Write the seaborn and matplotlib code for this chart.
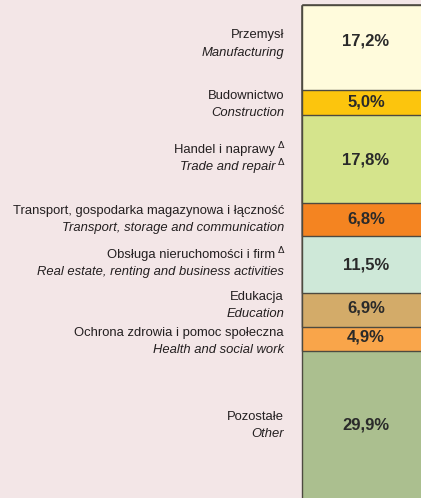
import matplotlib
matplotlib.use("Agg")
import matplotlib.pyplot as plt
from matplotlib import font_manager
import pandas as pd
import seaborn as sns

# udział sektorów (w %)
sectors_pl = ["Przemysł", "Budownictwo", "Handel i naprawy",
              "Transport, gospodarka magazynowa i łączność",
              "Obsługa nieruchomości i firm", "Edukacja",
              "Ochrona zdrowia i pomoc społeczna", "Pozostałe"]
sectors_en = ["Manufacturing", "Construction", "Trade and repair",
              "Transport, storage and communication",
              "Real estate, renting and business activities", "Education",
              "Health and social work", "Other"]
delta_pl = [False, False, True, False, True, False, False, False]
delta_en = [False, False, True, False, False, False, False, False]
shares = [17.2, 5.0, 17.8, 6.8, 11.5, 6.9, 4.9, 29.9]
colors = ["#fffbdc", "#fcc50d", "#d5e48c", "#f48421",
          "#cee8d8", "#d3ab69", "#f9a54a", "#abbf8f"]

# small vertical nudges (px, + = down) for labels and values
label_nudge = [-3.5, 2, 0, 0, -1, -4.5, 2.5, 0]
value_nudge = [-6.5, 0, 1, 0, 0, -2, -2.5, 0]

df = pd.DataFrame({"pl": sectors_pl, "en": sectors_en, "share": shares,
                   "color": colors, "dpl": delta_pl, "den": delta_en})
df["end"] = df["share"].cumsum()
df["start"] = df["end"] - df["share"]
df["mid"] = df["start"] + df["share"] / 2

sns.set_style("white")

# narrow font if there is one
try:
    font_manager.findfont("Liberation Sans Narrow", fallback_to_default=False)
    fam, scale = "Liberation Sans Narrow", 1.12
except Exception:
    fam, scale = "Liberation Sans", 1.0
plt.rcParams["font.family"] = [fam, "DejaVu Sans"]

W, H = 421, 498
bg = "#f3e6e7"
fig = plt.figure(figsize=(W / 100, H / 100), dpi=100)
fig.patch.set_facecolor(bg)
ax = fig.add_axes([0, 0, 1, 1])
ax.set_facecolor(bg)

# stacked bar: draw cumulative bars from longest to shortest
for _, row in df[::-1].iterrows():
    sns.barplot(data=pd.DataFrame({"bar": ["total"], "v": [row["end"]]}),
                x="bar", y="v", color=row["color"], saturation=1,
                edgecolor="#4d4a40", linewidth=1.0, width=0.8, ax=ax)

# bar from x=302px to ~430px, 0% at y=5px, 4.94 px per %
left_px, right_px = 302, 430
span = 0.8 * W / (right_px - left_px)
x0 = -0.4 - left_px / W * span
ax.set_xlim(x0, x0 + span)
px_per = 4.94
ax.set_ylim((H - 5) / px_per, -5 / px_per)
ax.set_axis_off()

txt_kw = dict(xycoords=("axes fraction", "data"), textcoords="offset points",
              ha="right", va="center", fontsize=9.4 * scale, color="#231f20")
right_x = 284 / W
tri_x = 275 / W
for i, row in df.iterrows():
    y = row["mid"] + label_nudge[i] / px_per
    for text, dy, style, tri in [(row["pl"], 6.2, "normal", row["dpl"]),
                                 (row["en"], -6.2, "italic", row["den"])]:
        ax.annotate(text, xy=(tri_x if tri else right_x, y), xytext=(0, dy),
                    style=style, **txt_kw)
        if tri:
            ax.annotate("Δ", xy=(right_x, y), xytext=(0, dy + 3.4),
                        xycoords=("axes fraction", "data"), textcoords="offset points",
                        ha="right", va="center", fontsize=6.8, color="#231f20",
                        family="DejaVu Sans")
    ax.text(0, row["mid"] + value_nudge[i] / px_per,
            f"{row['share']:.1f}".replace(".", ",") + "%",
            ha="center", va="center", fontsize=12 * scale, fontweight="bold",
            color="#2a2a2a")

plt.savefig("out.png", dpi=100, facecolor=fig.get_facecolor())
